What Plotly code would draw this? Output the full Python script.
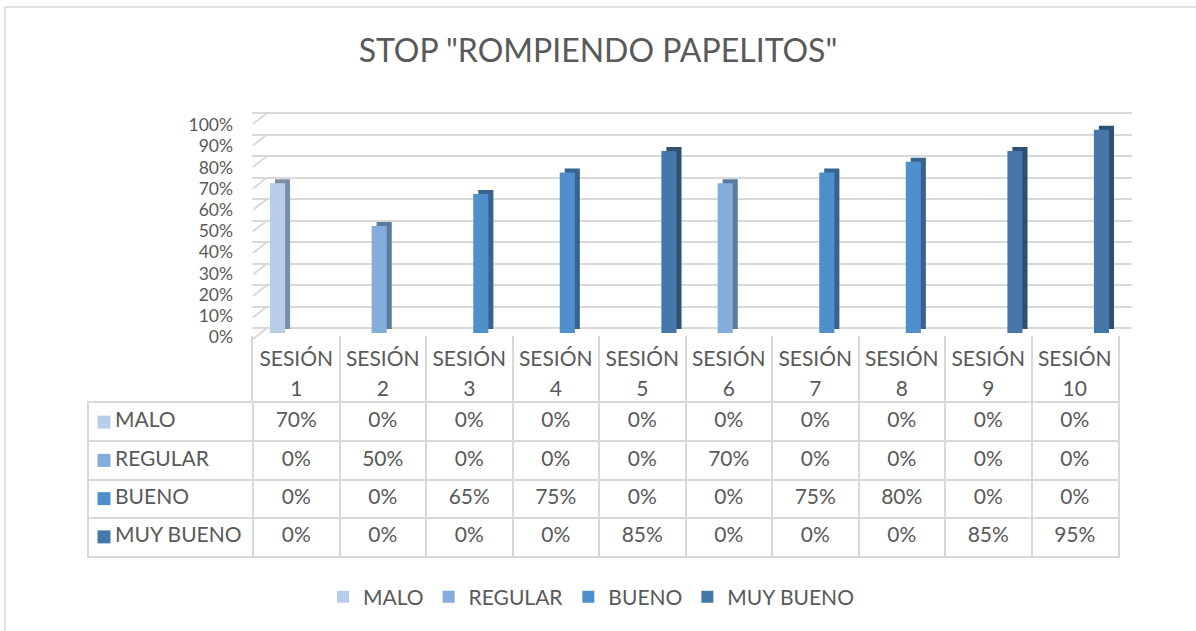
import plotly.graph_objects as go

W, H = 1196, 631


def fx(p):
    return p / W


def fy(p):
    return 1 - p / H


# ---------------- data ----------------
sessions = ["SESIÓN 1", "SESIÓN 2", "SESIÓN 3", "SESIÓN 4", "SESIÓN 5",
            "SESIÓN 6", "SESIÓN 7", "SESIÓN 8", "SESIÓN 9", "SESIÓN 10"]
series_names = ["MALO", "REGULAR", "BUENO", "MUY BUENO"]
malo = [0.70, 0, 0, 0, 0, 0, 0, 0, 0, 0]
regular = [0, 0.50, 0, 0, 0, 0.70, 0, 0, 0, 0]
bueno = [0, 0, 0.65, 0.75, 0, 0, 0.75, 0.80, 0, 0]
muy_bueno = [0, 0, 0, 0, 0.85, 0, 0, 0, 0.85, 0.95]
y_ticks = [0, 0.1, 0.2, 0.3, 0.4, 0.5, 0.6, 0.7, 0.8, 0.9, 1.0]

series_values = [malo, regular, bueno, muy_bueno]
front_colors = ["#B7CDE8", "#84ADDC", "#4F8FCB", "#4577A8"]
side_colors = ["#7E8EA2", "#5A7A9E", "#37638F", "#2E5073"]

FONT = "Lato"
FS = 21
TXT = "#595959"
GRID = "#D9D9D9"

# back-wall geometry (pixels)
WALL_L, WALL_R, WALL_B, WALL_T = 267, 1132, 328, 113
FRONT_L = 253
DEPTH_Y = 11
unit = WALL_B - WALL_T            # px per 100 %
dx = (WALL_L - FRONT_L) / (WALL_R - WALL_L)
dy = DEPTH_Y / unit
g_lo, g_hi = -dy - 0.02, 1.02

fig = go.Figure()

# back wall grid + side wall stubs (subplot x/y)
stub_x, stub_y = [], []
for t in y_ticks:
    stub_x += [-dx, 0, None]
    stub_y += [t - dy, t, None]
fig.add_trace(go.Scatter(x=stub_x, y=stub_y, mode="lines",
                         line=dict(color=GRID, width=2), xaxis="x", yaxis="y",
                         showlegend=False, hoverinfo="skip"))

# side / top faces (shadow) and front faces of the bars
for name, vals, sc in zip(series_names, series_values, side_colors):
    fig.add_trace(go.Bar(x=sessions, y=vals, name=name, marker_color=sc,
                         marker_line_width=0, xaxis="x2", yaxis="y2",
                         showlegend=False, hoverinfo="skip"))
for name, vals, fc in zip(series_names, series_values, front_colors):
    fig.add_trace(go.Bar(x=sessions, y=vals, name=name, marker_color=fc,
                         marker_line_width=0, xaxis="x3", yaxis="y3",
                         showlegend=True, hoverinfo="skip"))

# value axis labels
fig.add_trace(go.Scatter(x=[None], y=[None], xaxis="x3", yaxis="y4",
                         showlegend=False, hoverinfo="skip"))

# header row with session names (two lines)
fig.add_trace(go.Scatter(x=sessions, y=[0.63] * len(sessions),
                         text=[s.split(" ")[0] for s in sessions],
                         mode="text", textposition="middle center",
                         textfont=dict(family=FONT, size=FS, color=TXT),
                         xaxis="x5", yaxis="y5", showlegend=False,
                         hoverinfo="skip"))
fig.add_trace(go.Scatter(x=sessions, y=[0.19] * len(sessions),
                         text=[s.split(" ")[1] for s in sessions],
                         mode="text", textposition="middle center",
                         textfont=dict(family=FONT, size=FS, color=TXT),
                         xaxis="x5", yaxis="y5", showlegend=False,
                         hoverinfo="skip"))

# data table
col_w = (1118 - 253) / 10
for i, (name, vals, fc) in enumerate(zip(series_names, series_values, front_colors)):
    fig.add_trace(go.Scatter(x=[k + 0.5 for k in range(len(vals))],
                             y=[i + 0.5] * len(vals),
                             text=[f"{round(v * 100)}%" for v in vals],
                             mode="text", textposition="middle center",
                             textfont=dict(family=FONT, size=FS, color=TXT),
                             xaxis="x6", yaxis="y6", showlegend=False,
                             hoverinfo="skip"))
    fig.add_trace(go.Scatter(x=[(104 - 253) / col_w], y=[i + 0.5], mode="markers",
                             marker=dict(symbol="square", size=13, color=fc),
                             xaxis="x6", yaxis="y6", showlegend=False,
                             hoverinfo="skip"))
    fig.add_trace(go.Scatter(x=[(115 - 253) / col_w], y=[i + 0.5], text=[name],
                             mode="text", textposition="middle right",
                             textfont=dict(family=FONT, size=FS, color=TXT),
                             xaxis="x6", yaxis="y6", showlegend=False,
                             hoverinfo="skip"))

hidden = dict(visible=False)
fig.update_layout(
    width=W, height=H,
    margin=dict(l=0, r=0, t=0, b=0, autoexpand=False),
    paper_bgcolor="white", plot_bgcolor="rgba(0,0,0,0)",
    font=dict(family=FONT, color=TXT, size=FS),
    barmode="group", bargap=0.3, bargroupgap=0,
    title=dict(text='STOP "ROMPIENDO PAPELITOS"', x=0.5, xanchor="center",
               y=fy(51), yanchor="middle",
               font=dict(family=FONT, size=32, color=TXT)),
    showlegend=True,
    legend=dict(orientation="h", x=fx(591), xanchor="center", y=fy(597),
                yanchor="middle", font=dict(family=FONT, size=FS, color=TXT),
                bgcolor="rgba(0,0,0,0)"),
    # back wall grid
    xaxis=dict(domain=[fx(FRONT_L - 1), fx(WALL_R)], range=[-dx - 1 / (WALL_R - WALL_L), 1],
               anchor="y", **hidden),
    yaxis=dict(domain=[fy(WALL_B - g_lo * unit), fy(WALL_B - g_hi * unit)],
               range=[g_lo, g_hi], anchor="x",
               tickvals=y_ticks, showgrid=True, gridcolor=GRID, gridwidth=2,
               showticklabels=False, ticks="", zeroline=False, showline=False),
    # shadow bars
    xaxis2=dict(domain=[fx(262), fx(1127)], type="category",
                categoryorder="array", categoryarray=sessions, anchor="y2", **hidden),
    yaxis2=dict(domain=[fy(329), fy(115)], range=[0, 1], anchor="x2", **hidden),
    # front bars
    xaxis3=dict(domain=[fx(257), fx(1122)], type="category",
                categoryorder="array", categoryarray=sessions, anchor="y3", **hidden),
    yaxis3=dict(domain=[fy(333), fy(119)], range=[0, 1], anchor="x3", **hidden),
    # tick labels
    yaxis4=dict(domain=[fy(337), fy(125)], range=[0, 1], anchor="free",
                position=fx(233), tickvals=y_ticks, tickformat=".0%",
                showgrid=False, zeroline=False, showline=False, ticks="",
                tickfont=dict(family=FONT, size=17.5, color=TXT)),
    # header row
    xaxis5=dict(domain=[fx(253), fx(1118)], type="category",
                categoryorder="array", categoryarray=sessions, anchor="y5",
                tickson="boundaries", showgrid=True, gridcolor=GRID, gridwidth=2,
                showticklabels=False, ticks="", zeroline=False, showline=False),
    yaxis5=dict(domain=[fy(403), fy(336)], range=[0, 1], anchor="x5",
                showline=True, mirror=True, linecolor=GRID, linewidth=2,
                showgrid=False, zeroline=False, showticklabels=False, ticks=""),
    # table
    xaxis6=dict(domain=[fx(89), fx(1118)], range=[-(253 - 89) / col_w, 10],
                anchor="y6", tickvals=list(range(10)), showgrid=True,
                gridcolor=GRID, gridwidth=2, showticklabels=False, ticks="",
                zeroline=False, showline=True, mirror=True, linecolor=GRID,
                linewidth=2),
    yaxis6=dict(domain=[fy(556), fy(403)], range=[4, 0], anchor="x6",
                tickvals=[1, 2, 3], showgrid=True, gridcolor=GRID, gridwidth=2,
                showticklabels=False, ticks="", zeroline=False, showline=True,
                mirror=True, linecolor=GRID, linewidth=2),
    shapes=[dict(type="rect", xref="paper", yref="paper",
                 x0=fx(5), x1=fx(1240), y0=fy(7), y1=fy(700),
                 line=dict(color=GRID, width=1.5), fillcolor="rgba(0,0,0,0)",
                 layer="below")],
)

fig.write_html(
    "out.html",
    config={"displayModeBar": False},
    post_script="document.body.style.margin='0';document.body.style.overflow='hidden';",
)
